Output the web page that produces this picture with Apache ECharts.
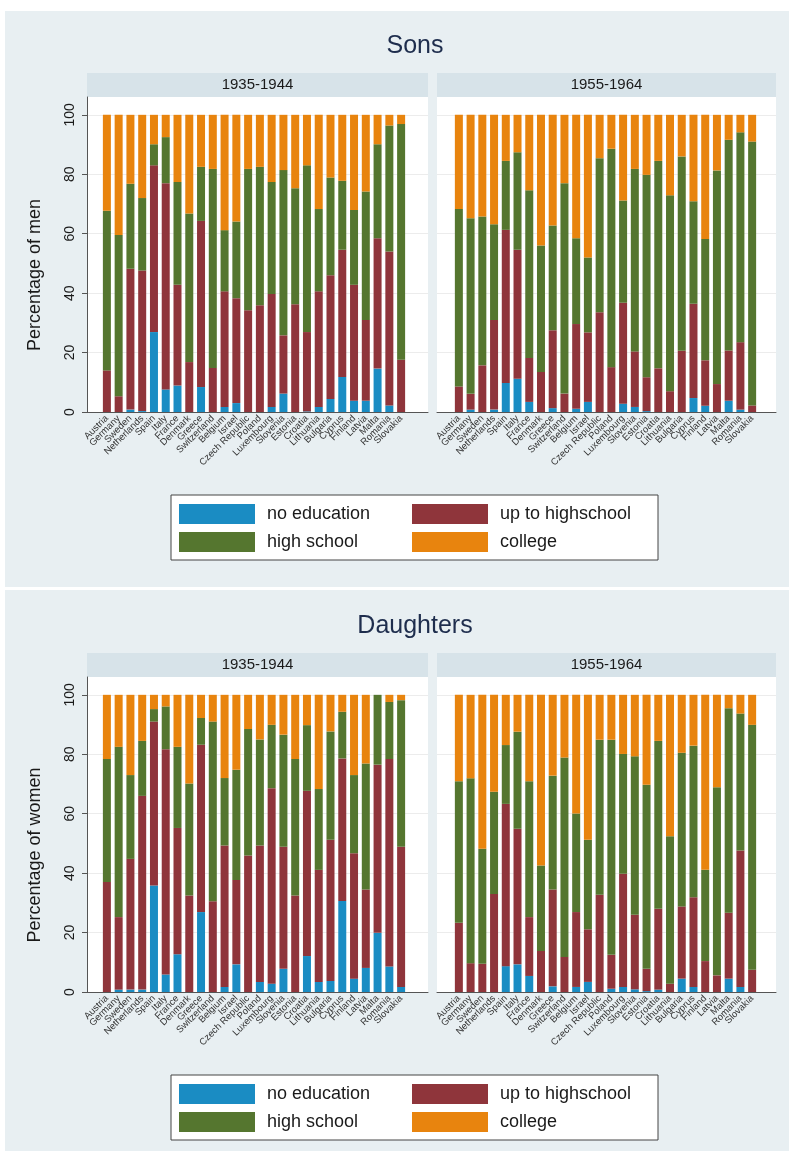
<!DOCTYPE html>
<html>
<head>
<meta charset="utf-8">
<script src="https://cdn.jsdelivr.net/npm/echarts@6/dist/echarts.min.js"></script>
<style>
  html, body { margin: 0; padding: 0; background: #fff; }
  #chart { width: 789px; height: 1158px; }
</style>
</head>
<body>
<div id="chart"></div>
<script>
// countries, same order in every panel
const countries = ['Austria', 'Germany', 'Sweden', 'Netherlands', 'Spain', 'Italy', 'France', 'Denmark',
  'Greece', 'Switzerland', 'Belgium', 'Israel', 'Czech Republic', 'Poland', 'Luxembourg', 'Slovenia',
  'Estonia', 'Croatia', 'Lithuania', 'Bulgaria', 'Cyprus', 'Finland', 'Latvia', 'Malta', 'Romania', 'Slovakia']
const levels = ['no education', 'up to highschool', 'high school', 'college']
const periods = ['1935-1944', '1955-1964']
const yTicks = [0, 20, 40, 60, 80, 100]

// sons, cohort 1935-1944 (percent)
const sons1935NoEdu = [0, 0, 0.8, 0.3, 26.9, 7.6, 8.9, 0, 8.4, 0, 1.7, 3.0, 0, 0, 1.7, 6.2, 0, 0.2, 1.7, 4.4, 11.8, 3.8, 3.8, 14.6, 2.2, 0]
const sons1935UpToHs = [14.0, 5.3, 47.4, 47.3, 56.1, 69.4, 33.9, 16.8, 55.9, 14.8, 38.9, 35.3, 34.2, 35.9, 38.0, 19.6, 36.3, 26.7, 38.9, 41.6, 42.8, 39.0, 27.2, 43.9, 51.8, 17.6]
const sons1935HighSchool = [53.7, 54.3, 28.6, 24.4, 7.1, 15.5, 34.6, 50.0, 18.2, 67.0, 20.6, 25.8, 47.6, 46.6, 37.7, 55.6, 39.0, 56.1, 27.7, 32.9, 23.2, 25.2, 43.2, 31.6, 42.4, 79.3]
const sons1935College = [32.3, 40.4, 23.2, 28.0, 9.9, 7.5, 22.6, 33.2, 17.5, 18.2, 38.8, 35.9, 18.2, 17.5, 22.6, 18.6, 24.7, 17.0, 31.7, 21.1, 22.2, 32.0, 25.8, 9.9, 3.6, 3.1]

// sons, cohort 1955-1964
const sons1955NoEdu = [0, 0.8, 0, 0.8, 9.8, 11.2, 3.4, 0, 1.3, 0, 1.1, 3.4, 0, 0, 2.8, 1.7, 0.3, 0, 0, 0, 4.7, 2.1, 0, 3.8, 0.8, 0]
const sons1955UpToHs = [8.6, 5.3, 15.7, 30.2, 51.5, 43.4, 14.8, 13.5, 26.2, 6.2, 28.5, 23.4, 33.6, 15.1, 34.0, 18.7, 11.4, 14.7, 7.0, 20.6, 31.7, 15.3, 9.4, 16.9, 22.7, 2.2]
const sons1955HighSchool = [59.7, 59.1, 50.1, 32.2, 23.2, 32.8, 56.4, 42.5, 35.3, 70.8, 28.9, 25.2, 51.8, 73.5, 34.4, 61.4, 68.1, 69.8, 65.9, 65.4, 34.5, 40.8, 71.9, 70.9, 70.6, 88.8]
const sons1955College = [31.7, 34.8, 34.2, 36.8, 15.5, 12.6, 25.4, 44.0, 37.2, 23.0, 41.5, 48.0, 14.6, 11.4, 28.8, 18.2, 20.2, 15.5, 27.1, 14.0, 29.1, 41.8, 18.7, 8.4, 5.9, 9.0]

// daughters, cohort 1935-1944
const daughters1935NoEdu = [0, 0.8, 0.8, 0.8, 35.8, 5.9, 12.7, 0, 26.9, 0, 1.7, 9.3, 0, 3.4, 2.8, 7.8, 0, 12.1, 3.4, 3.7, 30.6, 4.5, 8.1, 19.9, 8.6, 1.7]
const daughters1935UpToHs = [37.0, 24.4, 44.0, 65.2, 55.2, 75.8, 42.5, 32.5, 56.3, 30.5, 47.6, 28.4, 45.9, 45.9, 65.8, 41.1, 32.5, 55.6, 37.7, 47.5, 48.0, 42.2, 26.4, 56.6, 69.8, 47.2]
const daughters1935HighSchool = [41.4, 57.3, 28.2, 18.5, 4.2, 14.4, 27.3, 37.7, 9.0, 60.5, 22.7, 37.1, 42.6, 35.7, 21.3, 37.7, 45.9, 22.1, 27.2, 36.5, 15.7, 26.3, 42.4, 23.5, 19.2, 49.3]
const daughters1935College = [21.6, 17.5, 27.0, 15.5, 4.8, 3.9, 17.5, 29.8, 7.8, 9.0, 28.0, 25.2, 11.5, 15.0, 10.1, 13.4, 21.6, 10.2, 31.7, 12.3, 5.7, 27.0, 23.1, 0, 2.4, 1.8]

// daughters, cohort 1955-1964
const daughters1955NoEdu = [0, 0, 0, 0, 8.7, 9.3, 5.4, 0, 1.9, 0, 1.7, 3.4, 0, 1.1, 1.7, 0.9, 0.3, 0.8, 0, 4.5, 1.7, 0, 0, 4.5, 1.7, 0]
const daughters1955UpToHs = [23.3, 9.7, 9.5, 33.0, 54.6, 45.6, 19.8, 13.8, 32.6, 11.8, 25.2, 17.7, 32.7, 11.4, 38.1, 25.1, 7.5, 27.2, 2.8, 24.3, 30.2, 10.4, 5.6, 22.2, 45.9, 7.5]
const daughters1955HighSchool = [47.6, 62.2, 38.7, 34.4, 19.8, 32.7, 45.7, 28.8, 38.3, 67.1, 33.2, 30.1, 52.2, 72.4, 40.3, 53.3, 61.9, 56.5, 49.6, 51.7, 51.0, 30.7, 63.3, 68.8, 46.1, 82.4]
const daughters1955College = [29.1, 28.1, 51.8, 32.6, 16.9, 12.4, 29.1, 57.4, 27.2, 21.1, 39.9, 48.8, 15.1, 15.1, 19.9, 20.7, 30.3, 15.5, 47.6, 19.5, 17.1, 58.9, 31.1, 4.5, 6.3, 10.1]

const colors = ['#1a8cc3', '#8f353b', '#55762f', '#e8840e']
const bgColor = '#e8eff2'
const stripColor = '#d7e3e9'
const font = "'Liberation Sans', Arial, sans-serif"

const figures = [
  { title: 'Sons', yName: 'Percentage of men', dy: 0,
    data: [[sons1935NoEdu, sons1935UpToHs, sons1935HighSchool, sons1935College],
           [sons1955NoEdu, sons1955UpToHs, sons1955HighSchool, sons1955College]] },
  { title: 'Daughters', yName: 'Percentage of women', dy: 580,
    data: [[daughters1935NoEdu, daughters1935UpToHs, daughters1935HighSchool, daughters1935College],
           [daughters1955NoEdu, daughters1955UpToHs, daughters1955HighSchool, daughters1955College]] }
]

// panel boxes (white plot area) and the band where bars sit
const panelBox = [{ left: 87, width: 341 }, { left: 437, width: 339 }]
const barBand = [{ left: 101, width: 306 }, { left: 453, width: 305 }]
const plotTop = 97
const plotHeight = 315
const yMax = 106

const grid = []
const xAxis = []
const yAxis = []
const series = []
const graphic = []
const legend = []

figures.forEach((fig, f) => {
  graphic.push({ type: 'rect', z: -10, shape: { x: 5, y: 11 + fig.dy + (f ? -1 : 0), width: 784, height: f ? 561 : 576 }, style: { fill: bgColor } })
  graphic.push({ type: 'text', x: 415, y: 46 + fig.dy,
    style: { text: fig.title, font: `25px ${font}`, fill: '#1e2d4d', align: 'center', verticalAlign: 'middle' } })
  graphic.push({ type: 'text', x: 35, y: 275 + fig.dy, rotation: Math.PI / 2,
    style: { text: fig.yName, font: `18px ${font}`, fill: '#1a1a1a', align: 'center', verticalAlign: 'middle' } })
  // legend frame
  graphic.push({ type: 'rect', z: -5, shape: { x: 171, y: 495 + fig.dy, width: 487, height: 65 },
    style: { fill: '#fff', stroke: '#444', lineWidth: 1 } })

  fig.data.forEach((panel, p) => {
    const box = panelBox[p]
    graphic.push({ type: 'rect', z: -5, shape: { x: box.left, y: 73 + fig.dy, width: box.width, height: 24 }, style: { fill: stripColor } })
    graphic.push({ type: 'text', x: box.left + box.width / 2, y: 85 + fig.dy,
      style: { text: periods[p], font: `15px ${font}`, fill: '#1a1a1a', align: 'center', verticalAlign: 'middle' } })

    const bgIdx = grid.length
    grid.push({ left: box.left, width: box.width, top: plotTop + fig.dy, height: plotHeight,
      show: true, backgroundColor: '#fff', borderWidth: 0 })
    xAxis.push({ gridIndex: bgIdx, type: 'value', min: 0, max: 1, position: 'bottom',
      axisLine: { show: true, lineStyle: { color: '#555', width: 1 } },
      axisTick: { show: false }, axisLabel: { show: false }, splitLine: { show: false } })
    yAxis.push({ gridIndex: bgIdx, type: 'value', min: 0, max: yMax, interval: 20,
      axisLine: { show: p === 0, lineStyle: { color: '#555', width: 1 } },
      axisTick: { show: p === 0, length: 5, inside: false, customValues: yTicks, lineStyle: { color: '#555' } },
      axisLabel: { show: p === 0, customValues: yTicks, rotate: 90, margin: 10, fontSize: 14, color: '#1a1a1a', fontFamily: font },
      splitLine: { show: true, lineStyle: { color: '#ececec', width: 1 } } })

    const dataIdx = grid.length
    const band = barBand[p]
    grid.push({ left: band.left, width: band.width, top: plotTop + fig.dy, height: plotHeight })
    xAxis.push({ gridIndex: dataIdx, type: 'category', data: countries,
      axisLine: { show: false }, axisTick: { show: false },
      axisLabel: { interval: 0, rotate: 45, fontSize: 9.5, margin: 5, color: '#333', fontFamily: font } })
    yAxis.push({ gridIndex: dataIdx, type: 'value', min: 0, max: yMax, show: false, splitLine: { show: false } })

    levels.forEach((name, k) => {
      series.push({
        type: 'bar', name, stack: 'f' + f + 'p' + p,
        xAxisIndex: xAxis.length - 1, yAxisIndex: yAxis.length - 1,
        data: panel[k], barWidth: 8,
        itemStyle: { color: colors[k] },
        emphasis: { disabled: true }
      })
    })
  })

  const legendBase = { orient: 'vertical', top: 504 + fig.dy, itemWidth: 76, itemHeight: 20, itemGap: 8,
    icon: 'rect', padding: 0, selectedMode: false,
    textStyle: { fontSize: 18, color: '#1a1a1a', fontFamily: font, padding: [0, 0, 0, 7] } }
  legend.push(Object.assign({}, legendBase, { left: 179, data: [levels[0], levels[2]] }))
  legend.push(Object.assign({}, legendBase, { left: 412, data: [levels[1], levels[3]] }))
})

const chart = echarts.init(document.getElementById('chart'), null, { renderer: 'canvas' })
chart.setOption({
  animation: false,
  backgroundColor: '#fff',
  grid, xAxis, yAxis, series, legend, graphic,
  tooltip: { show: false }
})
</script>
</body>
</html>
